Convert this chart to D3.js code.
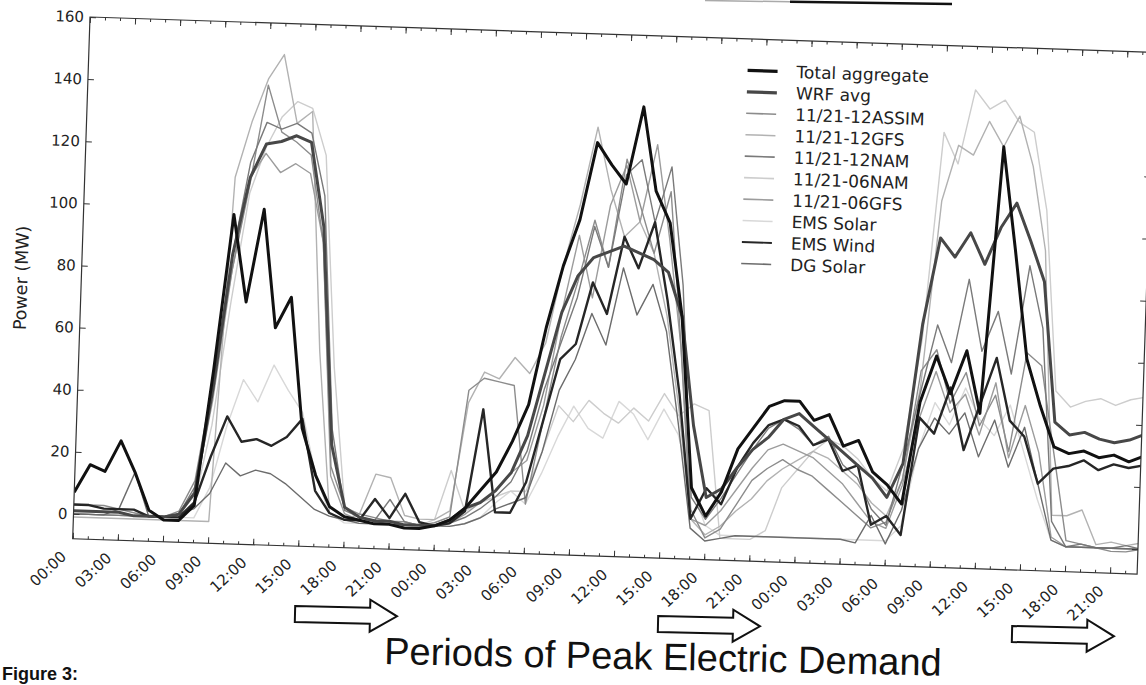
<!DOCTYPE html>
<html>
<head>
<meta charset="utf-8">
<script src="https://cdn.jsdelivr.net/npm/d3@7"></script>
<style>
body { margin: 0; background: #fff; }
svg { display: block; }
</style>
</head>
<body>
<div id="chart-area"></div>
<script>
// hourly samples, 3 days
var hours = [0,1,2,3,4,5,6,7,8,9,10,11,12,13,14,15,16,17,18,19,20,21,22,23,
    24,25,26,27,28,29,30,31,32,33,34,35,36,37,38,39,40,41,42,43,44,45,46,47,
    48,49,50,51,52,53,54,55,56,57,58,59,60,61,62,63,64,65,66,67,68,69,70,71];
var tickHours = [0,3,6,9,12,15,18,21,24,27,30,33,36,39,42,45,48,51,54,57,60,63,66,69];
var tickLabels = ["00:00","03:00","06:00","09:00","12:00","15:00","18:00","21:00",
    "00:00","03:00","06:00","09:00","12:00","15:00","18:00","21:00",
    "00:00","03:00","06:00","09:00","12:00","15:00","18:00","21:00"];
var yTicks = [0,20,40,60,80,100,120,140,160];

var seriesNames = ["Total aggregate","WRF avg","11/21-12ASSIM","11/21-12GFS","11/21-12NAM",
    "11/21-06NAM","11/21-06GFS","EMS Solar","EMS Wind","DG Solar"];

var totalAggregate = [7,16,14,24,14,2, -1,-1,4,48,98,70, 100,62,72,30,15,5, 2,1,0,0,-1,-1,
    0,2,6,12,18,28, 40,65,85,100,125,118, 112,137,110,100,70,15, 6,14,28,35,42,44,
    44,38,40,30,32,22, 18,12,45,60,48,62, 42,128,95,60,45,32, 30,31,29,30,28,30];
var wrfAvg = [1,1,1,1,0,0, 0,1,8,42,85,110, 121,122,124,122,95,25, 5,2,1,1,0,0,
    0,2,6,8,12,18, 30,50,70,82,88,90, 92,90,88,84,70,35, 12,15,22,28,32,38,
    40,36,32,28,24,20, 14,25,70,98,92,100, 90,102,110,98,85,40, 36,37,35,34,35,37];
var assim12 = [3,3,3,2,1,0, 0,2,12,45,80,108, 140,125,122,118,90,18, 5,3,2,1,1,0,
    1,3,44,48,47,46, 8,35,62,80,100,85, 120,105,90,110,60,8, -1,2,10,18,22,25,
    22,20,16,12,8,4, 6,20,55,62,45,55, 38,48,30,62,58,30, 2,1,0,-1,-1,0];
var gfs12 = [-1,-1,-1,-1,-1,-1, -1,-1,-1,-1,110,128, 142,150,128,132,55,3, 1,3,16,15,3,2,
    2,5,40,50,48,55, 50,60,85,105,130,110, 95,100,90,70,40,5, 0,3,8,12,18,22,
    25,28,26,22,18,12, 8,20,50,110,128,125, 136,128,138,122,95,10, 10,12,1,2,1,2];
var nam12 = [0,0,0,0,0,0, 0,1,10,45,85,115, 128,126,128,125,105,30, 4,2,1,8,1,0,
    0,1,3,6,10,15, 25,45,60,75,98,85, 115,120,100,118,80,12, 5,12,20,28,35,38,
    35,30,33,24,20,10, 5,25,48,70,58,85, 62,75,55,90,70,8, 0,1,0,0,1,0];
var nam06 = [0,0,0,0,0,0, 0,0,5,30,70,105, 120,130,135,133,118,50, 5,2,1,1,0,0,
    2,18,5,8,10,12, 12,25,40,35,42,38, 35,40,36,45,38,42, 40,-1,-1,-1,2,16,
    22,28,32,30,26,20, 16,30,65,132,122,146, 140,143,136,133,108,50, 45,47,48,46,48,49];
var gfs06 = [0,0,0,0,0,0, 0,1,8,38,80,110, 118,112,115,112,90,15, 3,1,1,0,0,0,
    0,1,4,8,12,18, 22,40,70,95,75,105, 118,100,125,95,60,5, 3,8,15,22,28,30,
    28,26,22,18,12,6, 4,18,40,55,42,48, 35,52,28,45,30,3, 0,0,0,0,0,0];
var emsSolar = [0,0,0,0,0,0, 0,0,0,10,30,45, 38,50,42,35,15,3, 0,0,0,0,0,0,
    0,0,1,3,8,12, 8,18,30,40,33,30, 42,38,30,40,32,15, 3,0,0,0,0,0,
    0,0,0,0,0,0, 0,5,30,45,38,50, 40,35,45,30,15,2, 0,0,0,0,0,0];
var emsWind = [3,3,2,2,2,0, 0,0,5,20,33,25, 26,24,27,33,10,3, 1,1,8,2,10,1,
    0,1,5,38,5,5, 15,35,55,60,80,70, 95,85,100,75,45,5, 15,10,22,30,36,38,
    36,30,32,22,24,5, 8,2,40,35,50,30, 45,60,40,35,20,25, 26,28,25,27,26,27];
var dgSolar = [0,0,0,2,14,0, 0,1,3,8,18,14, 16,15,12,8,4,2, 1,0,0,0,0,0,
    0,0,1,3,6,8, 10,25,45,55,70,60, 85,70,80,65,35,2, -2,-1,0,0,0,0,
    0,0,0,0,-1,8, -1,10,30,40,35,42, 28,40,25,38,20,2, 0,0,0,0,0,0];

var seriesValues = [totalAggregate, wrfAvg, assim12, gfs12, nam12, nam06, gfs06, emsSolar, emsWind, dgSolar];
var seriesColors = ["#111","#474747","#8c8c8c","#b2b2b2","#7a7a7a","#cdcdcd","#9c9c9c","#d8d8d8","#262626","#6c6c6c"];
var seriesWidths = [3,3,1.4,1.4,1.4,1.4,1.4,1.4,2.4,1.4];
var legendWidths = [3.2,3.2,1.6,1.6,1.6,1.6,1.6,1.6,1.8,1.6];
var drawOrder = [7,5,3,6,2,4,9,8,1,0];

var width = 1065, height = 522;
var svg = d3.select("#chart-area").append("svg")
    .attr("width", 1146)
    .attr("height", 685);
svg.append("rect").attr("width", 1146).attr("height", 685).attr("fill", "#fff");

// the scanned figure is tilted a little
var g = svg.append("g")
    .attr("transform", "translate(90,17) rotate(1.9)");

var x = d3.scaleLinear().domain([0, 70.8]).range([0, width]);
var y = d3.scaleLinear().domain([-8, 160]).range([height, 0]);

g.append("clipPath").attr("id", "plot-clip")
    .append("rect").attr("width", width).attr("height", height);

var line = d3.line()
    .x((d, i) => x(hours[i]))
    .y((d) => y(d));

var lines = g.append("g").attr("clip-path", "url(#plot-clip)");
drawOrder.forEach((k) => {
    lines.append("path")
        .datum(seriesValues[k])
        .attr("fill", "none")
        .attr("stroke", seriesColors[k])
        .attr("stroke-width", seriesWidths[k])
        .attr("stroke-linejoin", "round")
        .attr("d", line);
});

// axes, ticks pointing inward like matplotlib
var minorHours = hours.filter((h) => h <= 70.8);
var xAxis = d3.axisBottom(x)
    .tickValues(tickHours)
    .tickSizeInner(-6)
    .tickSizeOuter(0)
    .tickFormat((d, i) => tickLabels[i]);
var xg = g.append("g")
    .attr("class", "x-axis")
    .attr("transform", "translate(0," + height + ")")
    .call(xAxis);
xg.selectAll("text")
    .attr("x", 0)
    .attr("y", 0)
    .attr("dy", "0.35em")
    .attr("text-anchor", "end")
    .attr("transform", "translate(-9,15.5) rotate(-45)");
g.append("g")
    .attr("transform", "translate(0," + height + ")")
    .call(d3.axisBottom(x).tickValues(minorHours).tickSizeInner(-3).tickSizeOuter(0).tickFormat(""));
g.append("g")
    .call(d3.axisTop(x).tickValues(tickHours).tickSizeInner(-6).tickSizeOuter(0).tickFormat(""));
g.append("g")
    .call(d3.axisTop(x).tickValues(minorHours).tickSizeInner(-3).tickSizeOuter(0).tickFormat(""));

var yg = g.append("g")
    .attr("class", "y-axis")
    .call(d3.axisLeft(y).tickValues(yTicks).tickSizeInner(-6).tickSizeOuter(0).tickPadding(6));
g.append("g")
    .attr("transform", "translate(" + width + ",0)")
    .call(d3.axisRight(y).tickValues(yTicks).tickSizeInner(-6).tickSizeOuter(0).tickFormat(""));

g.selectAll(".domain").remove();
g.selectAll(".tick line").attr("stroke", "#333");
g.selectAll(".tick text")
    .attr("fill", "#222")
    .attr("font-family", "DejaVu Sans")
    .attr("font-size", "15px");

g.append("rect")
    .attr("width", width)
    .attr("height", height)
    .attr("fill", "none")
    .attr("stroke", "#333")
    .attr("stroke-width", 1.2);

g.append("text")
    .attr("transform", "translate(-60," + (height / 2 + 2) + ") rotate(-90)")
    .attr("text-anchor", "middle")
    .attr("dy", "0.35em")
    .attr("font-family", "DejaVu Sans")
    .attr("font-size", "17.5px")
    .attr("fill", "#222")
    .text("Power (MW)");

// legend, no frame
var legend = g.append("g").attr("transform", "translate(659,31.5)");
seriesNames.forEach((name, i) => {
    var row = legend.append("g").attr("transform", "translate(0," + (i * 21.47) + ")");
    row.append("line")
        .attr("x1", 0).attr("x2", 30)
        .attr("stroke", seriesColors[i])
        .attr("stroke-width", legendWidths[i]);
    row.append("text")
        .attr("x", 49)
        .attr("dy", "0.35em")
        .attr("font-family", "DejaVu Sans")
        .attr("font-size", "17px")
        .attr("fill", "#222")
        .text(name);
});

// annotations under the chart
var arrows = [[295, 614, 1.3], [658, 624, 1.3], [1012, 634, 1.3]];
arrows.forEach((a) => {
    var pts = [[0,-8],[75,-8],[75,-16],[102,0],[75,16],[75,8],[0,8]];
    svg.append("polygon")
        .attr("points", pts.map((p) => p.join(",")).join(" "))
        .attr("transform", "translate(" + a[0] + "," + a[1] + ") rotate(" + a[2] + ")")
        .attr("fill", "#fff")
        .attr("stroke", "#111")
        .attr("stroke-width", 2);
});

svg.append("text")
    .attr("x", 384)
    .attr("y", 664)
    .attr("transform", "rotate(1.2,384,664)")
    .attr("font-family", "Liberation Sans")
    .attr("font-size", "38px")
    .attr("fill", "#111")
    .text("Periods of Peak Electric Demand");

svg.append("text")
    .attr("x", 2)
    .attr("y", 680)
    .attr("font-family", "Liberation Sans")
    .attr("font-weight", "bold")
    .attr("font-size", "18px")
    .attr("fill", "#111")
    .text("Figure 3:");

// cut-off underline at the very top of the scan
svg.append("line")
    .attr("x1", 705).attr("y1", 0.5).attr("x2", 790).attr("y2", 1.8)
    .attr("stroke", "#aaa").attr("stroke-width", 1.5);
svg.append("line")
    .attr("x1", 790).attr("y1", 1.8).attr("x2", 952).attr("y2", 4)
    .attr("stroke", "#111").attr("stroke-width", 2.5);
</script>
</body>
</html>
